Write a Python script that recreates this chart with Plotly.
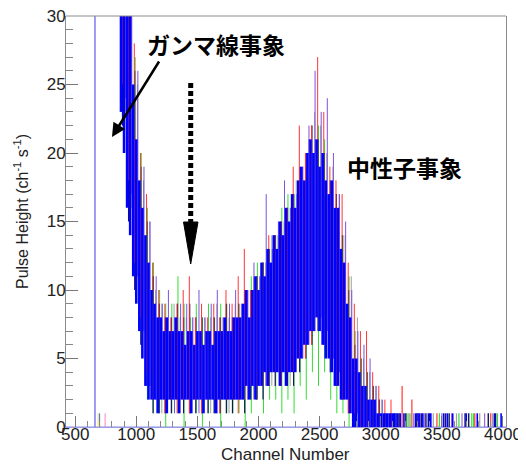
import plotly.graph_objects as go

# ---------------- data ----------------
# Blue histogram: min / max of the fluctuation inside each 25-channel bin
BLUE_CH = list(range(875, 3101, 25))
BLUE_HI = [40, 40, 36, 30, 25, 21, 18, 16, 14, 12,
           10, 9, 8, 8, 7, 8, 7, 7, 8, 7,
           7, 6, 7, 7, 6, 7, 7, 6, 7, 7,
           6, 7, 7, 7, 8, 7, 7, 8, 8, 8,
           9, 10, 8, 10, 11, 10, 12, 11, 13, 12,
           14, 13, 15, 14, 16, 15, 17, 16, 18, 19,
           18, 20, 21, 20, 21, 19, 20, 18, 17, 18,
           16, 16, 13, 12, 9, 8, 5, 5, 4, 3,
           3, 2, 2, 2, 1, 1, 1, 1, 1, 1]
BLUE_LO = [23, 20, 16, 14, 11, 9, 7, 5, 3, 2,
           2, 2, 1, 2, 2, 1, 2, 2, 2, 1,
           2, 2, 2, 1, 2, 2, 2, 1, 2, 2,
           2, 1, 2, 2, 2, 2, 2, 2, 2, 2,
           2, 3, 2, 3, 2, 3, 3, 4, 3, 4,
           4, 4, 3, 4, 3, 4, 4, 4, 5, 5,
           6, 6, 7, 7, 8, 7, 6, 5, 5, 4,
           3, 3, 2, 2, 2, 1, 0, 0, 0, 0,
           0, 0, 0, 0, 0, 0, 0, 0, 0, 0]

# Other runs: min / max inside each 50-channel bin
RED_CH = list(range(884, 3100, 50))
RED_HI = [40, 38, 28, 20, 17, 12, 10, 9, 8, 9,
          10, 11, 8, 9, 8, 9, 8, 10, 9, 11,
          13, 10, 11, 12, 14, 14, 15, 16, 19, 22,
          20, 22, 27, 23, 19, 18, 17, 12, 9, 7,
          7, 4, 3, 2, 2]
RED_LO = [25, 18, 12, 8, 4, 2, 2, 1, 2, 1,
          2, 1, 2, 1, 2, 2, 1, 2, 2, 1,
          2, 3, 2, 3, 3, 4, 3, 4, 4, 5,
          5, 6, 8, 6, 5, 3, 2, 1, 1, 0,
          0, 0, 0, 0, 0]

GREEN_CH = list(range(891, 3100, 50))
GREEN_HI = [40, 37, 27, 20, 16, 12, 10, 9, 9, 11,
            9, 8, 9, 8, 9, 8, 9, 9, 8, 9,
            10, 11, 12, 12, 13, 14, 16, 17, 17, 18,
            19, 20, 22, 21, 18, 16, 14, 11, 7, 5,
            4, 3, 2, 1, 1]
GREEN_LO = [22, 16, 10, 6, 2, 1, 1, 0, 1, 1,
            0, 1, 1, 0, 1, 1, 0, 1, 1, 1,
            0, 1, 2, 1, 2, 2, 1, 2, 1, 3,
            2, 4, 3, 4, 2, 1, 1, 0, 0, 0,
            0, 0, 0, 0, 0]

NAVY_CH = list(range(887, 3100, 50))
NAVY_HI = [40, 36, 26, 19, 15, 11, 9, 8, 8, 9,
           8, 9, 8, 8, 7, 8, 8, 9, 8, 9,
           10, 10, 11, 12, 13, 14, 15, 16, 17, 19,
           20, 22, 21, 20, 18, 17, 14, 10, 6, 5,
           4, 3, 2, 1, 1]
NAVY_LO = [22, 15, 10, 6, 3, 1, 1, 1, 1, 2,
           1, 1, 1, 1, 1, 1, 1, 1, 1, 2,
           1, 2, 2, 2, 3, 3, 3, 3, 3, 4,
           5, 6, 7, 6, 4, 3, 2, 1, 0, 0,
           0, 0, 0, 0, 0]

PURPLE_CH = list(range(913, 3120, 50))
PURPLE_HI = [40, 35, 26, 19, 15, 11, 9, 10, 8, 9,
             9, 8, 10, 8, 9, 10, 8, 9, 10, 9,
             10, 12, 11, 17, 13, 15, 18, 16, 17, 19,
             22, 26, 23, 24, 20, 17, 15, 10, 7, 6,
             5, 3, 2, 1, 1]
PURPLE_LO = [24, 17, 11, 7, 3, 2, 2, 2, 1, 2,
             2, 2, 1, 2, 2, 1, 2, 2, 2, 2,
             2, 3, 3, 3, 4, 4, 4, 4, 5, 5,
             6, 7, 8, 7, 5, 4, 2, 1, 1, 0,
             0, 0, 0, 0, 0]

GRAY_CH = list(range(909, 3120, 50))
GRAY_HI = [40, 36, 25, 18, 15, 10, 9, 8, 9, 8,
           8, 8, 7, 8, 8, 9, 8, 8, 9, 9,
           10, 11, 11, 12, 14, 14, 15, 16, 18, 19,
           21, 23, 22, 20, 19, 17, 14, 11, 8, 5,
           4, 3, 2, 1, 1]
GRAY_LO = [23, 16, 11, 7, 3, 2, 1, 2, 2, 1,
           2, 2, 2, 2, 1, 2, 2, 1, 2, 2,
           2, 2, 3, 3, 3, 4, 4, 3, 4, 5,
           6, 7, 7, 7, 5, 4, 3, 2, 1, 0,
           0, 0, 0, 0, 0]

# sparse single counts in the high-channel tail
TAIL_BLUE_CH = [3115, 3135, 3160, 3190, 3285, 3305, 3320, 3345, 3390, 3410,
                3515, 3545, 3585, 3700, 3790, 3930, 3985]
TAIL_NAVY_CH = [3125, 3150, 3205, 3295, 3335, 3370, 3400, 3530, 3560, 3690,
                3720, 3880, 3940]
TAIL_RED_CH = [3175, 3255, 3310, 3460, 3770, 3900]
TAIL_RED_VAL = [3, 2, 1, 1, 1, 1]
TAIL_GREEN_CH = [3110, 3215, 3240, 3480, 3640, 3745, 3760, 3955]
TAIL_PURPLE_CH = [3145, 3270, 3360, 3500, 3595, 3665, 3850]
TAIL_GRAY_CH = [3230, 3430, 3620, 3810, 3915]

# low-channel stray counts
LOW_CH = [688, 700, 745]
LOW_VAL = [1, 1, 1]
LOW_COL = ["#e8e040", "#4060ff", "#ff80c0"]

# lavender run: step histogram (edges / values)
LAV_EDGES = [425, 660, 664, 4025]
LAV_VALS = [0, 45, 0, 0]

X_TICKS = [500, 1000, 1500, 2000, 2500, 3000, 3500, 4000]
Y_TICKS = [0, 5, 10, 15, 20, 25, 30]


def segs(ch, lo, hi):
    xs, ys = [], []
    for c, a, b in zip(ch, lo, hi):
        xs += [c, c, None]
        ys += [a, b, None]
    return xs, ys


fig = go.Figure()


def add(ch, lo, hi, color, width):
    xs, ys = segs(ch, lo, hi)
    fig.add_trace(go.Scatter(x=xs, y=ys, mode="lines",
                             line=dict(color=color, width=width),
                             hoverinfo="skip", showlegend=False))


fig.add_trace(go.Scatter(x=LAV_EDGES, y=LAV_VALS, mode="lines",
                         line=dict(color="#8c8cf0", width=1.2, shape="hv"),
                         hoverinfo="skip", showlegend=False))
for c, v, col in zip(LOW_CH, LOW_VAL, LOW_COL):
    add([c], [0], [v], col, 1)

add(GRAY_CH, GRAY_LO, GRAY_HI, "#a0a0a0", 1)
add(GREEN_CH, GREEN_LO, GREEN_HI, "#33dd33", 1)
add(PURPLE_CH, PURPLE_LO, PURPLE_HI, "#7a52e0", 1)
add(NAVY_CH, NAVY_LO, NAVY_HI, "#141460", 1.2)
add(RED_CH, RED_LO, RED_HI, "#ff3535", 1)

add(TAIL_GRAY_CH, [0] * len(TAIL_GRAY_CH), [1] * len(TAIL_GRAY_CH), "#a0a0a0", 1.2)
add(TAIL_GREEN_CH, [0] * len(TAIL_GREEN_CH), [1] * len(TAIL_GREEN_CH), "#33dd33", 1.2)
add(TAIL_PURPLE_CH, [0] * len(TAIL_PURPLE_CH), [1] * len(TAIL_PURPLE_CH), "#9a6ad8", 1.2)
add(TAIL_NAVY_CH, [0] * len(TAIL_NAVY_CH), [1] * len(TAIL_NAVY_CH), "#141460", 1.4)
add(TAIL_RED_CH, [0] * len(TAIL_RED_CH), TAIL_RED_VAL, "#ff3535", 1.2)
add(TAIL_BLUE_CH, [0] * len(TAIL_BLUE_CH), [1] * len(TAIL_BLUE_CH), "#0000ff", 1.6)

add(BLUE_CH, BLUE_LO, BLUE_HI, "#0000ff", 2.6)

# ---------------- layout ----------------
# page geometry (the page body adds an 8 px margin)
OFF = 8
PLOT_L, PLOT_R, PLOT_T, PLOT_B = 66, 506, 16, 427
W, H = 526 - OFF, 466 - OFF
ML, MT = PLOT_L - OFF, PLOT_T - OFF
MR = OFF + W - PLOT_R
MB = OFF + H - PLOT_B
PW, PH = PLOT_R - PLOT_L, PLOT_B - PLOT_T


def px(xp):
    return (xp - PLOT_L) / PW


def py(yp):
    return (PLOT_B - yp) / PH


tickfont = dict(family="Liberation Sans, Arial, sans-serif", size=17, color="#222")

fig.update_layout(
    width=W, height=H,
    margin=dict(l=ML, r=MR, t=MT, b=MB, autoexpand=False),
    paper_bgcolor="white", plot_bgcolor="white",
    showlegend=False,
    xaxis=dict(range=[425, 4025], tickvals=X_TICKS, ticktext=[str(v) for v in X_TICKS],
               ticks="inside", ticklen=11, tickcolor="#777", tickwidth=1,
               ticklabelstandoff=-8, ticklabeloverflow="allow",
               minor=dict(dtick=100, tick0=0, ticks="inside", ticklen=6, tickcolor="#888"),
               showgrid=False, zeroline=False, showline=True, linecolor="#9c9ce6",
               linewidth=1, tickfont=tickfont, automargin=False),
    yaxis=dict(range=[0, 30], tickvals=Y_TICKS, ticks="inside", ticklen=12,
               tickcolor="#777", tickwidth=1, ticklabelstandoff=-4,
               ticklabeloverflow="allow",
               minor=dict(dtick=1, tick0=0, ticks="inside", ticklen=7, tickcolor="#888"),
               showgrid=False, zeroline=False, showline=True, mirror=True,
               linecolor="#8c8c8c", linewidth=1, tickfont=tickfont, automargin=False),
)

cjk = "Noto Sans CJK JP, sans-serif"
C = dict(xanchor="center", yanchor="middle", xref="paper", yref="paper", showarrow=False)
annos = [
    dict(x=px(285), y=py(455), text="Channel Number",
         font=dict(family="Liberation Sans, Arial", size=17, color="#222"), **C),
    dict(x=px(21), y=py(212),
         text="Pulse Height (ch<sup>-1</sup> s<sup>-1</sup>)", textangle=-90,
         font=dict(family="Liberation Sans, Arial", size=16, color="#222"), **C),
    dict(x=px(216), y=py(44), text="<b>ガンマ線事象</b>",
         font=dict(family=cjk, size=23, color="black"), **C),
    dict(x=px(404), y=py(167), text="<b>中性子事象</b>",
         font=dict(family=cjk, size=23, color="black"), **C),
    dict(x=px(112), y=py(137), xref="paper", yref="paper", text="",
         showarrow=True, ax=48, ay=-77, arrowhead=2, arrowsize=1.1,
         arrowwidth=2.5, arrowcolor="black"),
]
fig.update_layout(annotations=annos)

shapes = [
    dict(type="line", xref="paper", yref="paper", x0=0, x1=1, y0=1, y1=1,
         line=dict(color="#8c8c8c", width=1)),
    dict(type="line", xref="paper", yref="paper", x0=px(190.7), x1=px(190.7),
         y0=py(83), y1=py(226), line=dict(color="black", width=5, dash="5px,3px")),
    dict(type="path", xref="paper", yref="paper",
         path=f"M {px(183.5)} {py(222)} L {px(198)} {py(222)} L {px(190.7)} {py(264)} Z",
         fillcolor="black", line=dict(color="black", width=1)),
]
fig.update_layout(shapes=shapes)

fig.write_html("out.html")
